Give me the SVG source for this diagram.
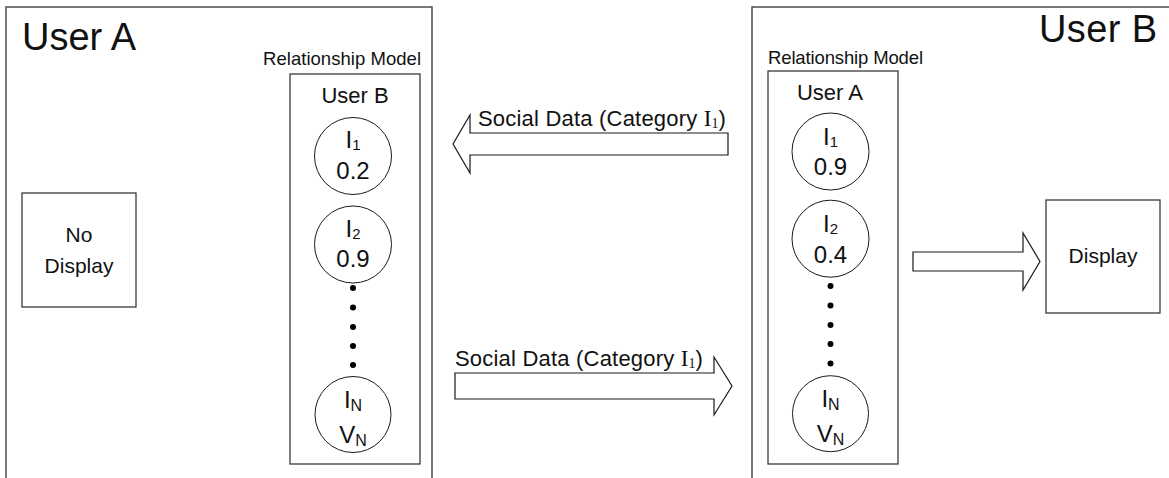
<svg xmlns="http://www.w3.org/2000/svg" width="1169" height="478" viewBox="0 0 1169 478">
  <style>
    .frame { fill: none; stroke: #4d4d4d; stroke-width: 1.5; }
    .box { fill: #ffffff; stroke: #3a3a3a; stroke-width: 1.3; }
    .item { fill: #ffffff; stroke: #1a1a1a; stroke-width: 1; }
    .dot { fill: #000000; }
    .arrow { fill: #ffffff; stroke: #1a1a1a; stroke-width: 1.2; stroke-linejoin: miter; }
    text { font-family: "Liberation Sans", Arial, sans-serif; fill: #111111; }
    .title { font-size: 38px; }
    .caption { font-size: 18.5px; }
    .head { font-size: 22px; text-anchor: middle; }
    .val { font-size: 24px; text-anchor: middle; }
    .sub { font-size: 15px; }
    .subN { font-size: 16px; }
    .lbl { font-size: 22px; }
    .serif { font-family: "Liberation Serif", "Times New Roman", serif; }
    .plain { font-size: 21px; text-anchor: middle; }
  </style>

  <!-- User A side -->
  <g id="userA">
    <path class="frame" d="M6,480 V7 H432 V480"/>
    <text class="title" x="22" y="50" textLength="114">User A</text>
  </g>

  <g id="userA-model">
    <text class="caption" x="263" y="64.5" textLength="158">Relationship Model</text>
    <rect class="box" x="290" y="74" width="130" height="390"/>
    <text class="head" x="355" y="103">User B</text>
  </g>

  <g id="userA-model-i1">
    <circle class="item" cx="353" cy="156" r="38.5"/>
    <text class="val" x="353" y="148">I<tspan class="sub" dy="2">1</tspan></text>
    <text class="val" x="353" y="179">0.2</text>
  </g>

  <g id="userA-model-i2">
    <circle class="item" cx="353" cy="244.5" r="38.5"/>
    <text class="val" x="353" y="236.5">I<tspan class="sub" dy="2">2</tspan></text>
    <text class="val" x="353" y="267">0.9</text>
  </g>

  <g id="userA-model-ellipsis">
    <circle class="dot" cx="353" cy="288" r="3"/>
    <circle class="dot" cx="353" cy="307.5" r="3"/>
    <circle class="dot" cx="353" cy="327" r="3"/>
    <circle class="dot" cx="353" cy="346" r="3"/>
    <circle class="dot" cx="353" cy="365" r="3"/>
  </g>

  <g id="userA-model-iN">
    <circle class="item" cx="353" cy="414.5" r="38"/>
    <text class="val" x="353" y="408">I<tspan class="subN" dy="3">N</tspan></text>
    <text class="val" x="353" y="443">V<tspan class="subN" dy="3">N</tspan></text>
  </g>

  <g id="no-display">
    <rect class="box" x="22" y="193" width="114" height="114"/>
    <text class="plain" x="79" y="242">No</text>
    <text class="plain" x="79" y="273">Display</text>
  </g>

  <!-- User B side -->
  <g id="userB">
    <path class="frame" d="M752,480 V7 H1175"/>
    <text class="title" x="1039" y="42" textLength="118">User B</text>
  </g>

  <g id="userB-model">
    <text class="caption" x="768" y="63.5" textLength="155">Relationship Model</text>
    <rect class="box" x="768" y="71" width="130" height="393"/>
    <text class="head" x="830" y="100">User A</text>
  </g>

  <g id="userB-model-i1">
    <circle class="item" cx="830.5" cy="151.5" r="38.5"/>
    <text class="val" x="830.5" y="144.5">I<tspan class="sub" dy="2">1</tspan></text>
    <text class="val" x="830.5" y="175">0.9</text>
  </g>

  <g id="userB-model-i2">
    <circle class="item" cx="830.5" cy="238.7" r="38.5"/>
    <text class="val" x="830.5" y="231.5">I<tspan class="sub" dy="2">2</tspan></text>
    <text class="val" x="830.5" y="263">0.4</text>
  </g>

  <g id="userB-model-ellipsis">
    <circle class="dot" cx="830.5" cy="286" r="3"/>
    <circle class="dot" cx="830.5" cy="305.5" r="3"/>
    <circle class="dot" cx="830.5" cy="325" r="3"/>
    <circle class="dot" cx="830.5" cy="344" r="3"/>
    <circle class="dot" cx="830.5" cy="363.5" r="3"/>
  </g>

  <g id="userB-model-iN">
    <circle class="item" cx="830.5" cy="413.7" r="38"/>
    <text class="val" x="830.5" y="407">I<tspan class="subN" dy="3">N</tspan></text>
    <text class="val" x="830.5" y="442">V<tspan class="subN" dy="3">N</tspan></text>
  </g>

  <g id="display">
    <rect class="box" x="1046" y="200" width="114" height="113"/>
    <text class="plain" x="1103" y="263">Display</text>
  </g>

  <!-- connectors: block arrows -->
  <g id="connectors">
    <polygon class="arrow" points="728,133 470,133 470,115 453,144 470,173 470,155 728,155"/>
    <text class="lbl" x="478" y="126" letter-spacing="0.2">Social Data (Category <tspan class="serif" font-size="23" letter-spacing="0">I</tspan><tspan class="serif" font-size="14" dy="2" letter-spacing="0">1</tspan><tspan dy="-2" letter-spacing="0">)</tspan></text>

    <polygon class="arrow" points="455,373 714,373 714,357 732,386 714,415 714,399 455,399"/>
    <text class="lbl" x="455" y="366" letter-spacing="0.2">Social Data (Category <tspan class="serif" font-size="23" letter-spacing="0">I</tspan><tspan class="serif" font-size="14" dy="2" letter-spacing="0">1</tspan><tspan dy="-2" letter-spacing="0">)</tspan></text>

    <polygon class="arrow" points="913,252 1023,252 1023,233 1040,261.5 1023,290 1023,271 913,271"/>
  </g>
</svg>
